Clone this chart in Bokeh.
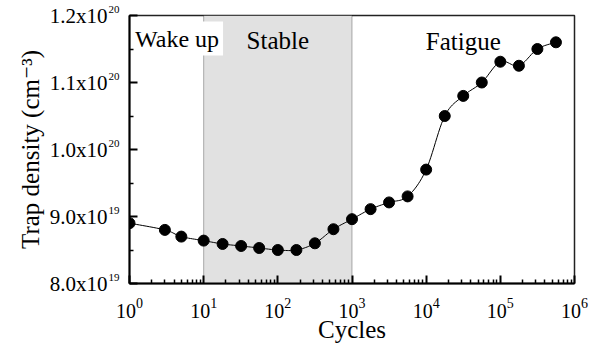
import math
from bokeh.plotting import figure
from bokeh.models import (BoxAnnotation, FixedTicker, LogTickFormatter,
                          CustomJSTickFormatter, LinearAxis)
from bokeh.core.properties import value
from bokeh.embed import file_html
from bokeh.resources import INLINE

# ---------------- data ----------------
cycles = [1, 3, 5, 10, 18, 32, 56, 100, 178, 316, 562, 1000, 1780, 3160,
          5620, 10000, 17800, 31600, 56200, 100000, 178000, 316000, 562000]
density = [8.90e19, 8.80e19, 8.70e19, 8.64e19, 8.59e19, 8.56e19, 8.53e19,
           8.50e19, 8.50e19, 8.60e19, 8.81e19, 8.96e19, 9.11e19, 9.21e19,
           9.30e19, 9.70e19, 1.050e20, 1.080e20, 1.100e20, 1.131e20,
           1.125e20, 1.150e20, 1.160e20]

x_major = [1e0, 1e1, 1e2, 1e3, 1e4, 1e5, 1e6]
x_minor = [m * 10 ** d for d in range(6) for m in range(2, 10)]

y_major = [8.0e19, 9.0e19, 1.0e20, 1.1e20, 1.2e20]
y_mantissa = ["8.0x10", "9.0x10", "1.0x10", "1.1x10", "1.2x10"]
y_exponent = ["19", "19", "20", "20", "20"]
y_minor = [8.5e19, 9.5e19, 1.05e20, 1.15e20]

x_title = "Cycles"
y_title = "Trap density (cm\u207b\u00b3)"
stable_region = (10, 1000)
region_names = ["Wake up", "Stable", "Fatigue"]
region_x = [1, 100, 10 ** 4.5]
region_y = [1.1655e20, 1.1627e20, 1.1619e20]

FONT = "Liberation Serif"
FONT_SUP = "Liberation Serif, DejaVu Serif"

Y0, Y1 = 8.0e19, 1.2e20

# ---------------- figure ----------------
p = figure(width=591, height=345, x_axis_type="log",
           x_range=(1, 1e6), y_range=(Y0, Y1),
           output_backend="svg", toolbar_location=None,
           min_border_left=129, min_border_right=17,
           min_border_top=15, min_border_bottom=59)
p.background_fill_color = "white"
p.border_fill_color = "white"
p.xgrid.visible = False
p.ygrid.visible = False
p.outline_line_color = "#222222"
p.outline_line_width = 1.5


def style_ticks(ax):
    ax.axis_line_width = 2
    ax.axis_line_color = "black"
    ax.major_tick_in = 8
    ax.major_tick_out = 0
    ax.minor_tick_in = 4
    ax.minor_tick_out = 0
    ax.major_tick_line_width = 2
    ax.minor_tick_line_width = 1.5
    ax.major_tick_line_color = "black"
    ax.minor_tick_line_color = "black"


def hide_ticks(ax):
    ax.axis_line_color = None
    ax.major_tick_line_color = None
    ax.minor_tick_line_color = None
    ax.major_tick_in = 0
    ax.major_tick_out = 0
    ax.minor_tick_in = 0
    ax.minor_tick_out = 0


# x axis: 10^n labels
xa = p.xaxis[0]
xa.ticker = FixedTicker(ticks=x_major, minor_ticks=x_minor)
xa.formatter = LogTickFormatter()
style_ticks(xa)
xa.major_label_text_font = FONT
xa.major_label_text_color = "black"
xa.major_label_text_font_size = "20px"
xa.major_label_standoff = 14
xa.axis_label = x_title
xa.axis_label_text_font = FONT
xa.axis_label_text_font_style = "normal"
xa.axis_label_text_color = "black"
xa.axis_label_text_font_size = "25px"
xa.axis_label_standoff = -5

# y axis (ticks at the frame, no labels)
ya = p.yaxis[0]
ya.ticker = FixedTicker(ticks=y_major, minor_ticks=y_minor)
ya.formatter = CustomJSTickFormatter(code="return ''")
style_ticks(ya)
ya.major_label_standoff = 0

# exponent labels (second, empty line lifts them above the tick)
ea = LinearAxis()
ea.ticker = FixedTicker(ticks=y_major, minor_ticks=[])
ea.major_label_overrides = {v: s + "\n " for v, s in zip(y_major, y_exponent)}
hide_ticks(ea)
ea.major_label_text_font = FONT
ea.major_label_text_color = "black"
ea.major_label_text_font_size = "11px"
ea.major_label_text_line_height = 1.1
ea.major_label_standoff = 10
p.add_layout(ea, "left")

# mantissa labels + title
ma = LinearAxis()
ma.ticker = FixedTicker(ticks=y_major, minor_ticks=[])
ma.major_label_overrides = {v: s for v, s in zip(y_major, y_mantissa)}
hide_ticks(ma)
ma.major_label_text_font = FONT
ma.major_label_text_color = "black"
ma.major_label_text_font_size = "21px"
ma.major_label_standoff = -2
ma.axis_label = y_title
ma.axis_label_text_font = FONT_SUP
ma.axis_label_text_font_style = "normal"
ma.axis_label_text_color = "black"
ma.axis_label_text_font_size = "25px"
ma.axis_label_standoff = 3
p.add_layout(ma, "left")

# shaded "stable" region
p.add_layout(BoxAnnotation(left=stable_region[0], right=stable_region[1],
                           fill_color="#e1e1e1", fill_alpha=1,
                           line_color="black", line_width=1,
                           level="underlay"))

# smooth connecting curve (Catmull-Rom through the data points, log-x space)
lx = [math.log10(c) for c in cycles]
ly = [d / 1e19 for d in density]
n = len(lx)
cx, cy = [], []
for i in range(n - 1):
    p0 = (lx[max(i - 1, 0)], ly[max(i - 1, 0)])
    p1 = (lx[i], ly[i])
    p2 = (lx[i + 1], ly[i + 1])
    p3 = (lx[min(i + 2, n - 1)], ly[min(i + 2, n - 1)])
    for k in range(12):
        t = k / 12
        t2, t3 = t * t, t * t * t

        def cr(a, b, c, d):
            return 0.5 * ((2 * b) + (-a + c) * t + (2 * a - 5 * b + 4 * c - d) * t2
                          + (-a + 3 * b - 3 * c + d) * t3)
        cx.append(10 ** cr(p0[0], p1[0], p2[0], p3[0]))
        cy.append(cr(p0[1], p1[1], p2[1], p3[1]) * 1e19)
cx.append(cycles[-1])
cy.append(density[-1])
p.line(cx, cy, line_color="black", line_width=1)
p.scatter(cycles, density, size=11, fill_color="black", line_color="black")

# region names
p.text(x=[region_x[0]], y=[region_y[0]], text=[region_names[0]],
       x_offset=1.5, text_font=value(FONT), text_font_size="24px",
       text_color="black", text_align="left", text_baseline="middle",
       background_fill_color="white", padding=4)
p.text(x=region_x[1:], y=region_y[1:], text=region_names[1:],
       text_font=value(FONT), text_font_size="25px",
       text_color="black", text_align="center", text_baseline="middle")

open("out.html", "w").write(file_html(p, INLINE))
